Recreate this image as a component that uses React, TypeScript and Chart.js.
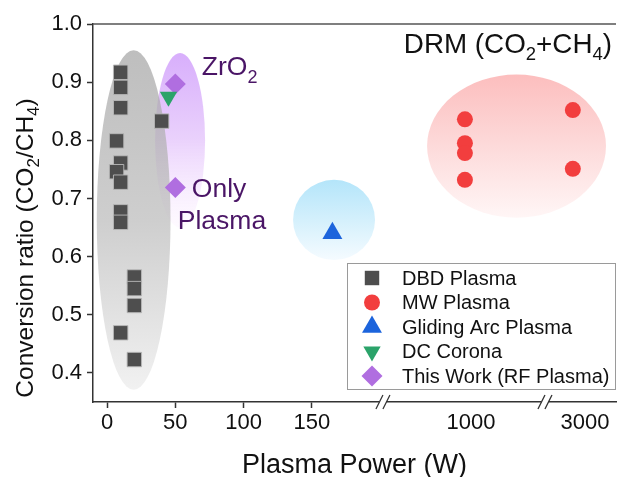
import React, { useEffect, useRef } from 'react';
import { Chart, registerables } from 'chart.js';
import { drawPoint } from 'chart.js/helpers';

Chart.register(...registerables);

// ---------------- data ----------------
const DBD_POWER = [10, 10, 10, 40, 7, 10, 7, 10, 10, 10, 20, 20, 20, 10, 20];
const DBD_RATIO = [0.917, 0.891, 0.856, 0.833, 0.799, 0.761, 0.746, 0.728, 0.677, 0.659, 0.565, 0.545, 0.516, 0.469, 0.423];
const MW_POWER = [1000, 1000, 1000, 1000, 3000, 3000];
const MW_RATIO = [0.836, 0.795, 0.778, 0.732, 0.852, 0.751];
const GA_POWER = [165];
const GA_RATIO = [0.64];
const DC_POWER = [45];
const DC_RATIO = [0.875];
const RF_POWER = [50, 50];
const RF_RATIO = [0.897, 0.719];

const SERIES_LABELS = ['DBD Plasma', 'MW Plasma', 'Gliding Arc Plasma', 'DC Corona', 'This Work (RF Plasma)'];
const X_TICKS = [0, 50, 100, 150, 1000, 3000];
const Y_TICKS = [0.4, 0.5, 0.6, 0.7, 0.8, 0.9, 1.0];

// broken x axis: power (W) -> axis position
function toAxis(p: number): number {
  if (p <= 200) return p;
  if (p <= 2000) return 262 + (p - 1000) * 0.1;
  return 341 + (p - 3000) * 0.02;
}
const X_MIN = -10.25;
const X_MAX = 372.6;
const BREAKS = [202, 320.6];

// shaded regions (axis position / ratio units)
const REGIONS = [
  { cx: 53.5, cy: 0.8, rx: 18.3, ry: 0.15, stops: ['rgb(212,166,252)', 'rgb(232,205,252)', 'rgba(253,244,255,0.5)'], alpha: 0.9 },
  { cx: 19.5, cy: 0.663, rx: 27, ry: 0.292, stops: ['rgba(165,165,165,0.72)', 'rgba(187,187,187,0.72)', 'rgba(236,236,236,0.72)'], alpha: 1 },
  { cx: 166.2, cy: 0.663, rx: 30, ry: 0.069, stops: ['rgb(180,229,250)', 'rgb(212,240,252)', 'rgb(245,251,255)'], alpha: 1 },
  { cx: 299.8, cy: 0.79, rx: 65.5, ry: 0.123, stops: ['rgb(252,190,190)', 'rgb(253,218,218)', 'rgb(255,246,246)'], alpha: 1 },
];

const FONT = "'Liberation Sans', Arial, Helvetica, sans-serif";
const NOTE_COLOR = '#4a1566';
const NBSP = '\u00a0';

type Part = [string, boolean];

function drawRich(ctx: CanvasRenderingContext2D, parts: Part[], x: number, y: number, size: number, subSize: number, subDy: number, align: 'left' | 'center' | 'right') {
  ctx.textBaseline = 'alphabetic';
  ctx.textAlign = 'left';
  let total = 0;
  for (const [t, sub] of parts) {
    ctx.font = `${sub ? subSize : size}px ${FONT}`;
    total += ctx.measureText(t).width;
  }
  let cx = align === 'left' ? x : align === 'center' ? x - total / 2 : x - total;
  for (const [t, sub] of parts) {
    ctx.font = `${sub ? subSize : size}px ${FONT}`;
    ctx.fillText(t, cx, sub ? y + subDy : y);
    cx += ctx.measureText(t).width;
  }
}

const backdropPlugin = {
  id: 'backdrop',
  beforeDatasetsDraw(chart: any) {
    const { ctx, chartArea, scales } = chart;
    const x = scales.x, y = scales.y;
    ctx.save();
    ctx.beginPath();
    ctx.rect(chartArea.left, chartArea.top, chartArea.right - chartArea.left, chartArea.bottom - chartArea.top);
    ctx.clip();
    for (const r of REGIONS) {
      const px = x.getPixelForValue(r.cx);
      const py = y.getPixelForValue(r.cy);
      const rx = Math.abs(x.getPixelForValue(r.cx + r.rx) - px);
      const ry = Math.abs(y.getPixelForValue(r.cy + r.ry) - py);
      const g = ctx.createLinearGradient(0, py - ry, 0, py + ry);
      g.addColorStop(0, r.stops[0]);
      g.addColorStop(0.5, r.stops[1]);
      g.addColorStop(1, r.stops[2]);
      ctx.globalAlpha = r.alpha;
      ctx.fillStyle = g;
      ctx.beginPath();
      ctx.ellipse(px, py, rx, ry, 0, 0, Math.PI * 2);
      ctx.fill();
    }
    ctx.restore();
  },
};

const overlayPlugin = {
  id: 'overlay',
  afterDraw(chart: any) {
    const { ctx, chartArea, scales } = chart;
    const x = scales.x, y = scales.y;
    ctx.save();

    // top frame line
    ctx.strokeStyle = '#555';
    ctx.lineWidth = 1.5;
    ctx.beginPath();
    ctx.moveTo(chartArea.left, chartArea.top);
    ctx.lineTo(chartArea.right, chartArea.top);
    ctx.stroke();

    // axis break marks
    const by = chartArea.bottom;
    for (const b of BREAKS) {
      const bx = x.getPixelForValue(b);
      ctx.fillStyle = '#fff';
      ctx.fillRect(bx - 3.5, by - 2, 7, 4);
      ctx.strokeStyle = '#333';
      ctx.lineWidth = 1.3;
      for (const off of [-3.5, 3.5]) {
        ctx.beginPath();
        ctx.moveTo(bx + off - 3.5, by + 7);
        ctx.lineTo(bx + off + 3.5, by - 7);
        ctx.stroke();
      }
    }

    // notes
    ctx.fillStyle = NOTE_COLOR;
    const d1x = x.getPixelForValue(toAxis(RF_POWER[0]));
    const d1y = y.getPixelForValue(RF_RATIO[0]);
    const d2x = x.getPixelForValue(toAxis(RF_POWER[1]));
    const d2y = y.getPixelForValue(RF_RATIO[1]);
    drawRich(ctx, [['ZrO', false], ['2', true]], d1x + 26.5, d1y - 9, 26.5, 18, 8, 'left');
    drawRich(ctx, [['Only', false]], d2x + 16.5, d2y + 9.5, 26.5, 18, 8, 'left');
    drawRich(ctx, [['Plasma', false]], d2x + 2.5, d2y + 41.5, 26.5, 18, 8, 'left');

    // DRM title
    ctx.fillStyle = '#111';
    drawRich(ctx, [['DRM (CO', false], ['2', true], ['+CH', false], ['4', true], [')', false]],
      chartArea.right - 4, chartArea.top + 29, 27.8, 18.5, 7, 'right');

    // axis titles
    drawRich(ctx, [['Plasma Power (W)', false]], (chartArea.left + chartArea.right) / 2, 473, 27, 18, 7, 'center');
    ctx.save();
    ctx.translate(33, (chartArea.top + chartArea.bottom) / 2 + 35);
    ctx.rotate(-Math.PI / 2);
    drawRich(ctx, [['Conversion ratio (CO', false], ['2', true], ['/CH', false], ['4', true], [')', false]],
      0, 0, 24.5, 17, 6, 'center');
    ctx.restore();

    // legend
    const lw = 269, lh = 127;
    const lx = chartArea.right - lw;
    const ly = chartArea.bottom - 12 - lh;
    ctx.fillStyle = '#fff';
    ctx.fillRect(lx, ly, lw, lh);
    ctx.strokeStyle = '#9a9a9a';
    ctx.lineWidth = 1;
    ctx.strokeRect(lx + 0.5, ly + 0.5, lw - 1, lh - 1);
    chart.data.datasets.forEach((ds: any, i: number) => {
      const cy = ly + 15 + i * 24.5;
      ctx.fillStyle = ds.backgroundColor;
      drawPoint(ctx, {
        pointStyle: ds.pointStyle,
        rotation: ds.rotation || 0,
        radius: ds.pointRadius,
        borderWidth: 0,
      } as any, lx + 25, cy);
      ctx.fillStyle = '#111';
      ctx.font = `20px ${FONT}`;
      ctx.textAlign = 'left';
      ctx.textBaseline = 'middle';
      ctx.fillText(ds.label, lx + 55, cy + 1);
    });

    ctx.restore();
  },
};

function pts(px: number[], py: number[]) {
  return px.map((p, i) => ({ x: toAxis(p), y: py[i] }));
}

export default function App() {
  const ref = useRef<HTMLCanvasElement>(null);
  useEffect(() => {
    if (!ref.current) return;
    Chart.defaults.font.family = FONT;
    const chart = new Chart(ref.current, {
      type: 'scatter',
      data: {
        datasets: [
          { label: SERIES_LABELS[0], data: pts(DBD_POWER, DBD_RATIO), pointStyle: 'rect', pointRadius: 10.2,
            backgroundColor: '#4e4e4e', borderColor: 'rgba(185,185,185,0.9)', borderWidth: 1 },
          { label: SERIES_LABELS[1], data: pts(MW_POWER, MW_RATIO), pointStyle: 'circle', pointRadius: 8,
            backgroundColor: '#f23e3e', borderWidth: 0 },
          { label: SERIES_LABELS[2], data: pts(GA_POWER, GA_RATIO), pointStyle: 'triangle', pointRadius: 11.5,
            backgroundColor: '#1c64dc', borderWidth: 0 },
          { label: SERIES_LABELS[3], data: pts(DC_POWER, DC_RATIO), pointStyle: 'triangle', pointRadius: 10,
            rotation: 180, backgroundColor: '#2ba36a', borderWidth: 0 },
          { label: SERIES_LABELS[4], data: pts(RF_POWER, RF_RATIO), pointStyle: 'rectRot', pointRadius: 10.5,
            backgroundColor: '#b06ee0', borderWidth: 0 },
        ] as any,
      },
      options: {
        animation: false,
        responsive: false,
        events: [],
        layout: { autoPadding: false, padding: { top: 24, right: 2, left: 0, bottom: 0 } },
        plugins: { legend: { display: false }, tooltip: { enabled: false }, title: { display: false } },
        scales: {
          x: {
            type: 'linear',
            min: X_MIN,
            max: X_MAX,
            afterBuildTicks: (s: any) => { s.ticks = X_TICKS.map((v) => ({ value: toAxis(v) })); },
            afterFit: (s: any) => { s.height = 75; },
            ticks: {
              autoSkip: false,
              maxRotation: 0,
              minRotation: 0,
              padding: 2,
              color: '#111',
              font: { size: 22, family: FONT },
              callback: (_v: any, i: number) => {
                const v = X_TICKS[i];
                const pad = v === 1000 ? NBSP.repeat(2) : v === 3000 ? NBSP.repeat(4) : '';
                return pad + String(v);
              },
            },
            grid: {
              drawOnChartArea: false,
              drawTicks: true,
              tickLength: 6,
              tickWidth: 1.5,
              tickColor: (c: any) => (X_TICKS[c.index] <= 200 ? '#333' : 'rgba(0,0,0,0)'),
            },
            border: { display: true, color: '#333', width: 1.5 },
          },
          y: {
            type: 'linear',
            min: 0.35,
            max: 1.0,
            afterBuildTicks: (s: any) => { s.ticks = Y_TICKS.map((v) => ({ value: v })); },
            afterFit: (s: any) => { s.width = 93; },
            ticks: {
              padding: 5,
              color: '#111',
              font: { size: 22, family: FONT },
              callback: (v: any) => Number(v).toFixed(1),
            },
            grid: { drawOnChartArea: false, drawTicks: true, tickLength: 6, tickWidth: 1.5, tickColor: '#333' },
            border: { display: true, color: '#333', width: 1.5 },
          },
        },
      } as any,
      plugins: [backdropPlugin, overlayPlugin],
    });
    return () => chart.destroy();
  }, []);
  return (
    <div style={{ position: 'absolute', left: 0, top: 0, width: 618, height: 477, background: '#fff' }}>
      <canvas ref={ref} width={618} height={477} style={{ width: 618, height: 477, display: 'block' }} />
    </div>
  );
}
